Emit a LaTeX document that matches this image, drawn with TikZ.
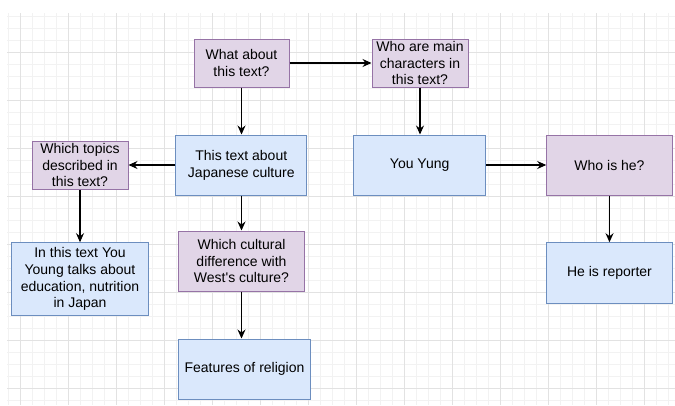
\documentclass[tikz,border=0pt]{standalone}
\usepackage{fontspec}
\setmainfont{Liberation Sans}
\usetikzlibrary{arrows.meta}
\definecolor{qfill}{HTML}{E1D5E7}
\definecolor{qdraw}{HTML}{9673A6}
\definecolor{bfill}{HTML}{DAE8FC}
\definecolor{bdraw}{HTML}{6C8EBF}
\definecolor{gminor}{HTML}{F2F2F2}
\definecolor{gmajor}{HTML}{E2E2E2}
\tikzset{
  box/.style={draw, line width=1pt, align=center, inner sep=0pt,
    font=\fontsize{14}{16.8}\selectfont, text=black},
  qbox/.style={box, fill=qfill, draw=qdraw},
  bbox/.style={box, fill=bfill, draw=bdraw},
  conn/.style={line width=1.1pt, -{Stealth[length=9pt,width=8pt,inset=3pt]}},
}
\begin{document}
\begin{tikzpicture}[x=1pt,y=-1pt]
\useasboundingbox (0,0) rectangle (675,405);
\fill[white] (0,0) rectangle (675,405);
\begin{scope}
\clip (7,13) rectangle (675,405);
\foreach \x in {8,20,...,680} \draw[gminor, line width=0.8pt] (\x,13) -- (\x,405);
\foreach \y in {16,28,...,410} \draw[gminor, line width=0.8pt] (7,\y) -- (675,\y);
\foreach \x in {20,68,...,680} \draw[gmajor, line width=0.8pt] (\x,13) -- (\x,405);
\foreach \y in {52,100,...,410} \draw[gmajor, line width=0.8pt] (7,\y) -- (675,\y);
\end{scope}

\node[qbox, minimum width=95pt, minimum height=48pt] (q1) at (241.5,63) {What about\\this text?};
\node[qbox, minimum width=96pt, minimum height=48pt] (q2) at (420,63) {Who are main\\characters in\\this text?};
\node[bbox, minimum width=131pt, minimum height=60pt] (b1) at (241.3,165) {This text about\\Japanese culture};
\node[qbox, minimum width=96pt, minimum height=48pt] (q3) at (80,165) {Which topics\\described in\\this text?};
\node[bbox, minimum width=132pt, minimum height=60pt] (b2) at (419.7,165) {You Yung};
\node[qbox, minimum width=125.6pt, minimum height=60pt] (q4) at (609.5,165) {Who is he?};
\node[bbox, minimum width=137.7pt, minimum height=72.6pt] (b3) at (80,279) {In this text You\\Young talks about\\education, nutrition\\in Japan};
\node[qbox, minimum width=126.4pt, minimum height=60pt] (q5) at (241.5,261) {Which cultural\\difference with\\West\textquotesingle s culture?};
\node[bbox, minimum width=132.4pt, minimum height=60pt] (b4) at (244.5,369) {Features of religion};
\node[bbox, minimum width=125.6pt, minimum height=60.6pt] (b5) at (609.5,273) {He is reporter};

\draw[conn] (q1.south) -- (q1.south |- b1.north);
\draw[conn] (q1.east) -- (q2.west);
\draw[conn] (q2.south) -- (q2.south |- b2.north);
\draw[conn] (b1.west) -- (q3.east);
\draw[conn] (q3.south) -- (q3.south |- b3.north);
\draw[conn] (b1.south -| q5.north) -- (q5.north);
\draw[conn] (q5.south) -- (q5.south |- b4.north);
\draw[conn] (b2.east) -- (q4.west);
\draw[conn] (q4.south) -- (q4.south |- b5.north);
\end{tikzpicture}
\end{document}
